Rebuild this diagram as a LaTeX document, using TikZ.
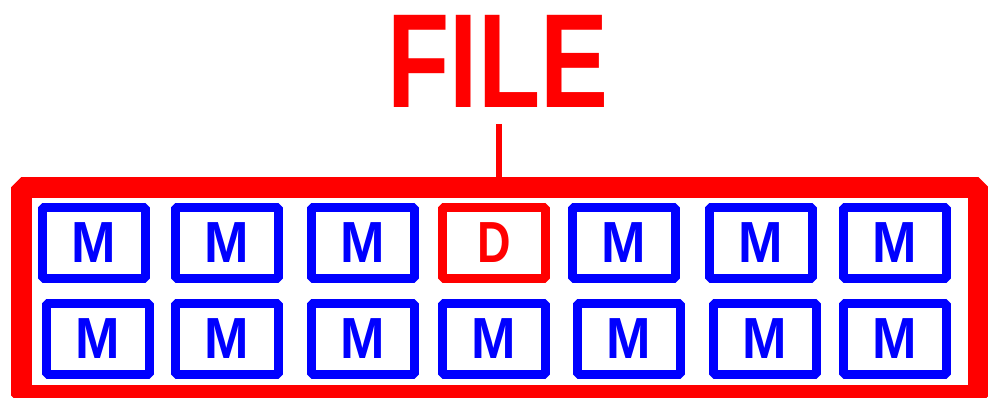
\documentclass[tikz,border=0pt]{standalone}
\usepackage{fontspec}
\setmainfont{Liberation Sans}
\definecolor{fred}{RGB}{255,0,0}
\definecolor{fblue}{RGB}{0,0,255}
\begin{document}
\begin{tikzpicture}[x=1pt,y=-1pt,
  cell/.style={draw=fblue, line width=9pt, line join=bevel, minimum width=103pt,
    minimum height=71pt, inner sep=0pt, text=fblue,
    font=\fontsize{58}{58}\selectfont\bfseries},
  dcell/.style={cell, draw=fred, text=fred},
  frame/.style={draw=fred, line width=21pt, line join=bevel, minimum width=957pt,
    minimum height=208pt, inner sep=0pt},
  stemline/.style={draw=fred, line width=6pt},
  titletext/.style={text=fred, anchor=base, inner sep=0pt,
    font=\fontsize{134}{134}\selectfont\bfseries}]
\useasboundingbox (0,0) rectangle (988,398);
\node[frame] (frm) at (500,291.5) {};
\node[titletext] (title) at (498,108) {\scalebox{0.76}[1]{FILE}};
\coordinate (stemtop) at (499,124);
\draw[stemline] (stemtop) -- (stemtop |- frm.north);
% row 1
\node[cell] (a1) at (93.5,243) {\scalebox{0.92}[1]{M}};
\node[cell] (a2) at (226.5,243) {\scalebox{0.92}[1]{M}};
\node[cell] (a3) at (362.5,243) {\scalebox{0.92}[1]{M}};
\node[dcell] (a4) at (494,243) {\scalebox{0.8}[1]{D}};
\node[cell] (a5) at (624,243) {\scalebox{0.92}[1]{M}};
\node[cell] (a6) at (760.5,243) {\scalebox{0.92}[1]{M}};
\node[cell] (a7) at (894.5,243) {\scalebox{0.92}[1]{M}};
% row 2
\node[cell] (b1) at (98,339) {\scalebox{0.92}[1]{M}};
\node[cell] (b2) at (226.5,339) {\scalebox{0.92}[1]{M}};
\node[cell] (b3) at (362.5,339) {\scalebox{0.92}[1]{M}};
\node[cell] (b4) at (494,339) {\scalebox{0.92}[1]{M}};
\node[cell] (b5) at (628.5,339) {\scalebox{0.92}[1]{M}};
\node[cell] (b6) at (764.5,339) {\scalebox{0.92}[1]{M}};
\node[cell] (b7) at (894.5,339) {\scalebox{0.92}[1]{M}};
\end{tikzpicture}
\end{document}
